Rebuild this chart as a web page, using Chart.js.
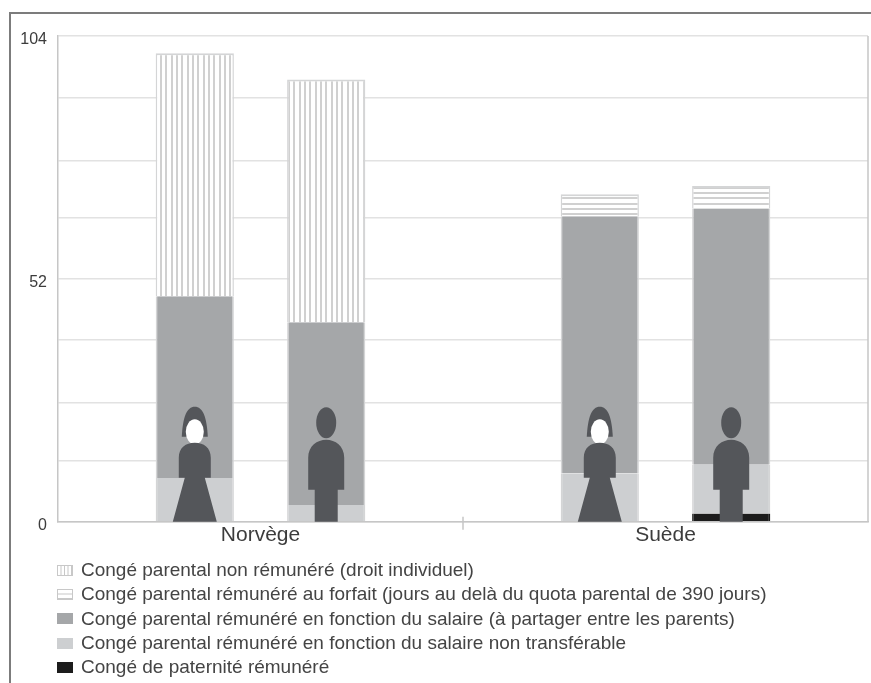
<!DOCTYPE html>
<html lang="fr">
<head>
<meta charset="utf-8">
<title>Congé parental</title>
<script src="https://cdn.jsdelivr.net/npm/chart.js@4/dist/chart.umd.min.js"></script>
<style>
  html, body { margin: 0; padding: 0; background: #fff; }
  #page { position: relative; width: 871px; height: 683px; overflow: hidden; }
  #frame { position: absolute; left: 9px; top: 12px; width: 900px; height: 700px; border: 2px solid #7c7c7c; }
  #chart-box { position: absolute; left: 0; top: 0; width: 871px; height: 549px; }
  #legend { position: absolute; left: 57px; top: 558px; font: 19px "Liberation Sans", Arial, sans-serif; color: #444; }
  #legend div { height: 24.3px; line-height: 24.3px; white-space: nowrap; display: flex; align-items: center; }
  #legend canvas { width: 16px; height: 11px; margin-right: 8px; }
</style>
</head>
<body>
<div id="page">
  <div id="frame"></div>
  <div id="chart-box"><canvas id="chart"></canvas></div>
  <div id="legend"></div>
</div>
<script>
  const categories = ['Norvège', 'Suède'];
  const yLabels = [0, 52, 104];
  const gridValues = [0, 13, 25.5, 39, 52, 65, 77.4, 90.7, 104];

  // weeks per country, one list for the women's bars and one for the men's
  const paternityWomen = [0, 0];
  const paternityMen = [0, 1.8];
  const reservedWomen = [9.4, 10.4];
  const reservedMen = [3.6, 10.4];
  const sharedWomen = [38.9, 55];
  const sharedMen = [39.1, 54.8];
  const flatRateWomen = [0, 4.7];
  const flatRateMen = [0, 4.9];
  const unpaidWomen = [52, 0];
  const unpaidMen = [52, 0];

  const legendLabels = [
    'Congé parental non rémunéré (droit individuel)',
    'Congé parental rémunéré au forfait (jours au delà du quota parental de 390 jours)',
    'Congé parental rémunéré en fonction du salaire (à partager entre les parents)',
    'Congé parental rémunéré en fonction du salaire non transférable',
    'Congé de paternité rémunéré'
  ];

  const FIGURE = '#54565a';
  const EDGE = '#d4d5d6';
  const AXIS = '#c6c6c6';

  function hatchTile(vertical) {
    const tile = document.createElement('canvas');
    tile.width = vertical ? 16 : 1;
    tile.height = vertical ? 1 : 16;
    const c = tile.getContext('2d');
    c.fillStyle = '#fff';
    c.fillRect(0, 0, tile.width, tile.height);
    c.fillStyle = '#d0d0d0';
    [0, 5, 11].forEach(p => {
      if (vertical) c.fillRect(p, 0, 2, 1);
      else c.fillRect(0, p, 1, 2);
    });
    return tile;
  }

  const ctxChart = document.getElementById('chart').getContext('2d');
  const vertHatch = ctxChart.createPattern(hatchTile(true), 'repeat');
  const horizHatch = ctxChart.createPattern(hatchTile(false), 'repeat');

  const series = [
    { women: paternityWomen, men: paternityMen, fill: '#1c1c1c', edge: '#1c1c1c', top: 0 },
    { women: reservedWomen, men: reservedMen, fill: '#cdcfd1', edge: EDGE, top: 0 },
    { women: sharedWomen, men: sharedMen, fill: '#a5a7a9', edge: EDGE, top: 0 },
    { women: flatRateWomen, men: flatRateMen, fill: horizHatch, edge: EDGE, top: 2 },
    { women: unpaidWomen, men: unpaidMen, fill: vertHatch, edge: EDGE, top: 2 }
  ];

  const datasets = [];
  series.forEach(s => {
    [['women', s.women], ['men', s.men]].forEach(([stack, data]) => {
      datasets.push({
        stack, data,
        backgroundColor: s.fill,
        borderColor: s.edge,
        // empty segments must not leave a stray edge on the stack
        borderWidth: ctx => ctx.raw ? { left: 1.5, right: 1.5, top: s.top, bottom: 0 } : 0,
        borderSkipped: false,
        categoryPercentage: 0.649,
        barPercentage: 0.595
      });
    });
  });

  function drawWoman(c, x, base) {
    c.fillStyle = FIGURE;
    // hood
    c.beginPath();
    c.moveTo(x - 13, base - 85);
    c.bezierCurveTo(x - 12, base - 105, x - 8, base - 115, x, base - 115);
    c.bezierCurveTo(x + 8, base - 115, x + 12, base - 105, x + 13, base - 85);
    c.closePath();
    c.fill();
    // face
    c.fillStyle = '#fff';
    c.beginPath();
    c.ellipse(x, base - 90, 9, 12.5, 0, 0, Math.PI * 2);
    c.fill();
    // body and skirt
    c.fillStyle = FIGURE;
    c.beginPath();
    c.moveTo(x - 22, base);
    c.lineTo(x - 10, base - 44);
    c.lineTo(x - 16, base - 44);
    c.lineTo(x - 16, base - 64);
    c.bezierCurveTo(x - 16, base - 74, x - 9, base - 79, x, base - 79);
    c.bezierCurveTo(x + 9, base - 79, x + 16, base - 74, x + 16, base - 64);
    c.lineTo(x + 16, base - 44);
    c.lineTo(x + 10, base - 44);
    c.lineTo(x + 22, base);
    c.closePath();
    c.fill();
  }

  function drawMan(c, x, base) {
    c.fillStyle = FIGURE;
    c.beginPath();
    c.ellipse(x, base - 99, 10, 15.5, 0, 0, Math.PI * 2);
    c.fill();
    c.beginPath();
    c.moveTo(x - 11.5, base);
    c.lineTo(x - 11.5, base - 32);
    c.lineTo(x - 18, base - 32);
    c.lineTo(x - 18, base - 64);
    c.bezierCurveTo(x - 18, base - 76, x - 9, base - 82, x, base - 82);
    c.bezierCurveTo(x + 9, base - 82, x + 18, base - 76, x + 18, base - 64);
    c.lineTo(x + 18, base - 32);
    c.lineTo(x + 11.5, base - 32);
    c.lineTo(x + 11.5, base);
    c.closePath();
    c.fill();
  }

  // silhouettes standing on the axis, centred on each bar
  const figures = {
    id: 'figures',
    afterDatasetsDraw(chart) {
      const c = chart.ctx;
      const base = chart.scales.y.getPixelForValue(0);
      chart.getDatasetMeta(0).data.forEach(bar => drawWoman(c, bar.x, base));
      chart.getDatasetMeta(1).data.forEach(bar => drawMan(c, bar.x, base));
    }
  };

  // closing line on the right and the small separator between the two countries
  const plotEdges = {
    id: 'plotEdges',
    afterDraw(chart) {
      const c = chart.ctx;
      const { top, bottom, right } = chart.chartArea;
      const mid = chart.scales.x.getPixelForValue(0.5);
      c.save();
      c.strokeStyle = AXIS;
      c.lineWidth = 1.5;
      c.beginPath();
      c.moveTo(right, top);
      c.lineTo(right, bottom);
      c.moveTo(mid, bottom - 5);
      c.lineTo(mid, bottom + 8);
      c.stroke();
      c.restore();
    }
  };

  new Chart(ctxChart, {
    type: 'bar',
    data: { labels: categories, datasets },
    plugins: [figures, plotEdges],
    options: {
      responsive: true,
      maintainAspectRatio: false,
      animation: false,
      layout: { padding: { left: 0, right: 3, top: 36, bottom: 0 } },
      plugins: { legend: { display: false }, tooltip: { enabled: false } },
      scales: {
        x: {
          stacked: true,
          grid: { drawOnChartArea: false, drawTicks: false, color: AXIS },
          border: { color: AXIS, width: 1.5 },
          ticks: {
            color: '#3c3c3c', padding: 1, maxRotation: 0,
            font: { family: '"Liberation Sans", Arial, sans-serif', size: 21 }
          }
        },
        y: {
          stacked: true,
          min: 0,
          max: 104,
          afterFit(axis) { axis.width = 58; },
          afterBuildTicks(axis) { axis.ticks = gridValues.map(value => ({ value })); },
          grid: { color: '#e2e2e2', lineWidth: 1.5, drawTicks: false },
          border: { color: AXIS, width: 1.5 },
          ticks: {
            color: '#3c3c3c', padding: 11, labelOffset: 4, autoSkip: false,
            font: { family: '"Liberation Sans", sans-serif', size: 16 },
            callback: v => yLabels.includes(v) ? v : ''
          }
        }
      }
    }
  });

  // legend list with the same fills as the bars
  const legendFills = ['#fff', '#fff', '#a5a7a9', '#cdcfd1', '#1c1c1c'];
  const legendBox = document.getElementById('legend');
  legendLabels.forEach((text, i) => {
    const row = document.createElement('div');
    const swatch = document.createElement('canvas');
    swatch.width = 16;
    swatch.height = 11;
    const c = swatch.getContext('2d');
    c.fillStyle = legendFills[i];
    c.fillRect(0, 0, 16, 11);
    if (i < 2) {
      c.fillStyle = '#c8c8c8';
      for (let p = 0; p < (i === 0 ? 16 : 11); p += i === 0 ? 3.5 : 4.5) {
        if (i === 0) c.fillRect(p, 0, 1, 11);
        else c.fillRect(0, p, 16, 1);
      }
      c.strokeStyle = '#c8c8c8';
      c.strokeRect(0.5, 0.5, 15, 10);
    }
    row.appendChild(swatch);
    row.appendChild(document.createTextNode(text));
    legendBox.appendChild(row);
  });
</script>
</body>
</html>
